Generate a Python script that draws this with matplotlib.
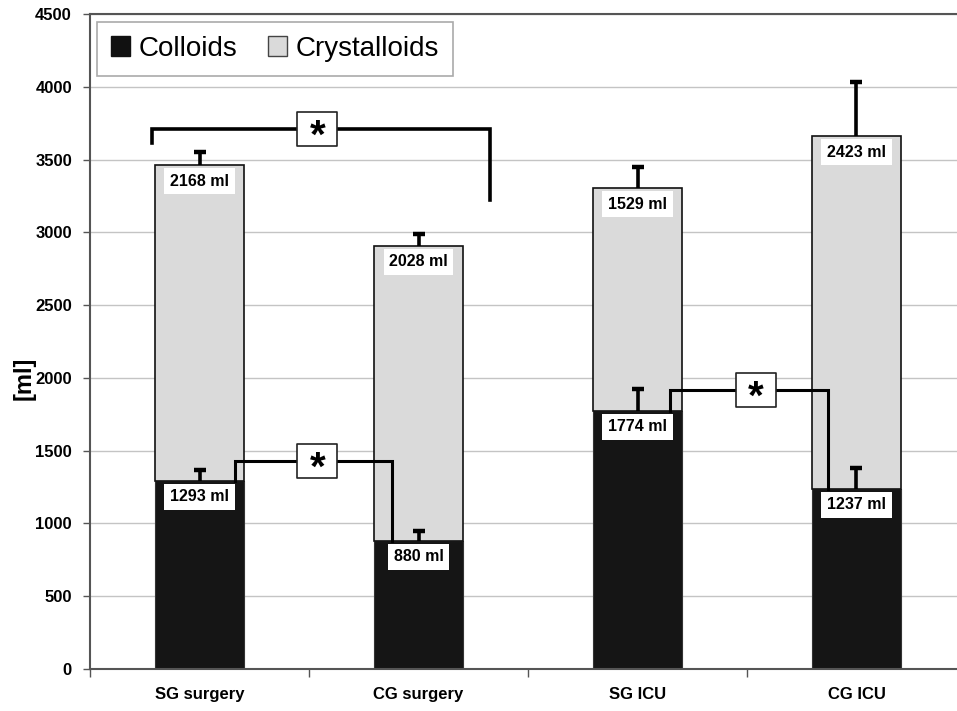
import matplotlib

matplotlib.use("Agg")

import matplotlib.pyplot as plt
from matplotlib.patches import Patch
from matplotlib.path import Path

plt.rcParams["font.family"] = ["Liberation Sans", "DejaVu Sans"]

groups = ["SG surgery", "CG surgery", "SG ICU", "CG ICU"]
colloids = [1293, 880, 1774, 1237]
crystalloids = [2168, 2028, 1529, 2423]
colloid_err = [74, 68, 149, 144]
crystalloid_err = [91, 80, 146, 373]

# significance brackets: left x, right x, bar height, left end, right end, star x, line width
brackets = [
    (-0.219, 1.327, 3710, 3614, 3222, 0.538, 2.6),
    (0.164, 0.880, 1429, 1293, 880, 0.538, 2.2),
    (2.148, 2.868, 1917, 1774, 1237, 2.540, 2.2),
]

colloid_color = "#151515"
cryst_color = "#dadada"

fig = plt.figure(figsize=(9.57, 7.11), dpi=100)
ax = fig.add_axes([90 / 957, 42 / 711, 876 / 957, 655 / 711])

x = list(range(len(groups)))
width = 0.41
totals = [c + k for c, k in zip(colloids, crystalloids)]

ax.bar(x, colloids, width, color=colloid_color, edgecolor="#333333", linewidth=0.8, zorder=2)
ax.bar(x, crystalloids, width, bottom=colloids, color=cryst_color,
       edgecolor="#111111", linewidth=1.2, zorder=2)

# upper-only error bars
for base, err in ((colloids, colloid_err), (totals, crystalloid_err)):
    tops = [b + e for b, e in zip(base, err)]
    ax.vlines(x, base, tops, color="black", linewidth=2.6, zorder=3)
    ax.plot(x, tops, linestyle="none", marker="_", ms=8.6, mew=3.2, color="black", zorder=3)

label_box = dict(boxstyle="square,pad=0.35", fc="white", ec="none")
for i in x:
    ax.annotate(f"{colloids[i]} ml", (i, colloids[i]), xytext=(0, -16),
                textcoords="offset pixels", ha="center", va="center",
                fontsize=11.5, fontweight="bold", bbox=label_box, zorder=4)
    ax.annotate(f"{crystalloids[i]} ml", (i, totals[i]), xytext=(0, -16),
                textcoords="offset pixels", ha="center", va="center",
                fontsize=11.5, fontweight="bold", bbox=label_box, zorder=4)

box_marker = Path([(-1, -0.82), (1, -0.82), (1, 0.82), (-1, 0.82), (-1, -0.82)],
                  [Path.MOVETO, Path.LINETO, Path.LINETO, Path.LINETO, Path.CLOSEPOLY])
for lx, rx, y, ly, ry, sx, lw in brackets:
    ax.plot([lx, lx, rx, rx], [ly, y, y, ry], color="black", linewidth=lw,
            solid_joinstyle="miter", zorder=5)
    ax.plot([sx], [y], marker=box_marker, ms=29, mfc="white", mec="#222222",
            mew=1.2, zorder=6)
    ax.annotate("*", (sx, y), xytext=(0, -19), textcoords="offset pixels",
                ha="center", va="baseline", fontsize=29, fontweight="bold", zorder=7)

ax.set_xlim(-0.5, 3.5)
ax.set_ylim(0, 4500)
ax.set_yticks(range(0, 4501, 500))
ax.yaxis.grid(True, color="#c4c4c4", linewidth=1.0, zorder=0)
ax.set_axisbelow(True)

ax.set_xticks(x)
ax.set_xticklabels(groups, fontsize=12, fontweight="bold")
ax.set_xticks([-0.5, 0.5, 1.5, 2.5, 3.5], minor=True)
ax.tick_params(axis="x", which="major", length=0, pad=13)
ax.tick_params(axis="x", which="minor", length=6, width=1, color="#555555", direction="out")
ax.tick_params(axis="y", length=5, width=1, color="#555555", pad=8)
for lab in ax.get_yticklabels():
    lab.set_fontsize(12)
    lab.set_fontweight("bold")

ax.set_ylabel("[ml]", fontsize=17, fontweight="bold")
ax.yaxis.set_label_coords(-0.062, 2000 / 4500)

for side in ("left", "bottom", "top"):
    ax.spines[side].set_color("#555555")
    ax.spines[side].set_linewidth(1.5)
ax.spines["right"].set_visible(False)

handles = [
    Patch(facecolor="#111111", edgecolor="#111111", label="Colloids"),
    Patch(facecolor=cryst_color, edgecolor="#444444", label="Crystalloids"),
]
leg = ax.legend(handles=handles, loc="upper left", bbox_to_anchor=(0.008, 0.988),
                borderaxespad=0, ncol=2, fontsize=20, handlelength=0.7,
                handleheight=0.7, handletextpad=0.3, columnspacing=1.1,
                borderpad=0.5, fancybox=False, framealpha=1, edgecolor="#aaaaaa")
leg.get_frame().set_linewidth(1.2)

fig.savefig("out.png", dpi=100)
